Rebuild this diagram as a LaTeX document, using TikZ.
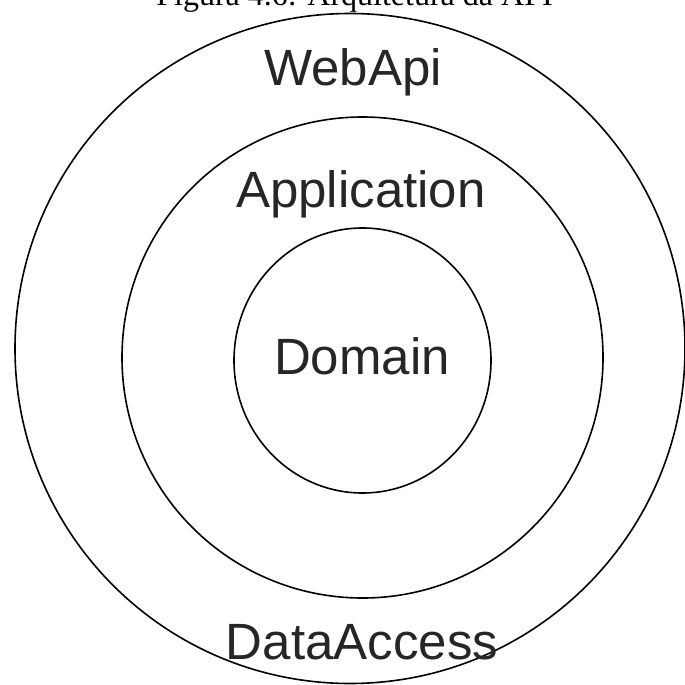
\documentclass[tikz,border=0pt]{standalone}
\usepackage{fontspec}
\setmainfont{Liberation Sans}
\newfontfamily\captionfont{Liberation Serif}
\usepackage{tikz}
\usetikzlibrary{shapes.geometric}

\tikzset{
	layer/.style={draw=black,line width=1.6pt,inner sep=0pt},
	layername/.style={anchor=base,inner sep=0pt,text=black!85,font=\fontsize{51}{60}\selectfont}
}

\begin{document}
\begin{tikzpicture}[x=1pt,y=-1pt]
		\useasboundingbox (0,0) rectangle (685,685);
		\clip (0,0) rectangle (685,685);
		\coordinate (outerC) at (350,348.5);
		\coordinate (midC) at (362.5,357.5);
		\coordinate (innerC) at (362.5,360.5);
		
		% 标题（上半部分被裁掉）
		\node[anchor=base,inner sep=0pt,font=\captionfont\fontsize{32}{38}\selectfont] (caption) at (354.5,6) {Figura 4.6: Arquitetura da API};
		
		% 三层圆
		\node[layer,circle,minimum size=670pt] (webapi) at (outerC) {};
		\node[layer,circle,minimum size=481pt] (application) at (midC) {};
		\node[layer,ellipse,minimum width=257pt,minimum height=265pt] (domain) at (innerC) {};
		
		% 层名
		\node[layername] (webapiName) at (353,85) {WebApi};
		\node[layername] (applicationName) at (361,207) {Application};
		\node[layername] (domainName) at (362,374) {Domain};
		\node[layername] (dataaccessName) at (362,659) {DataAccess};
	\end{tikzpicture}
\end{document}
